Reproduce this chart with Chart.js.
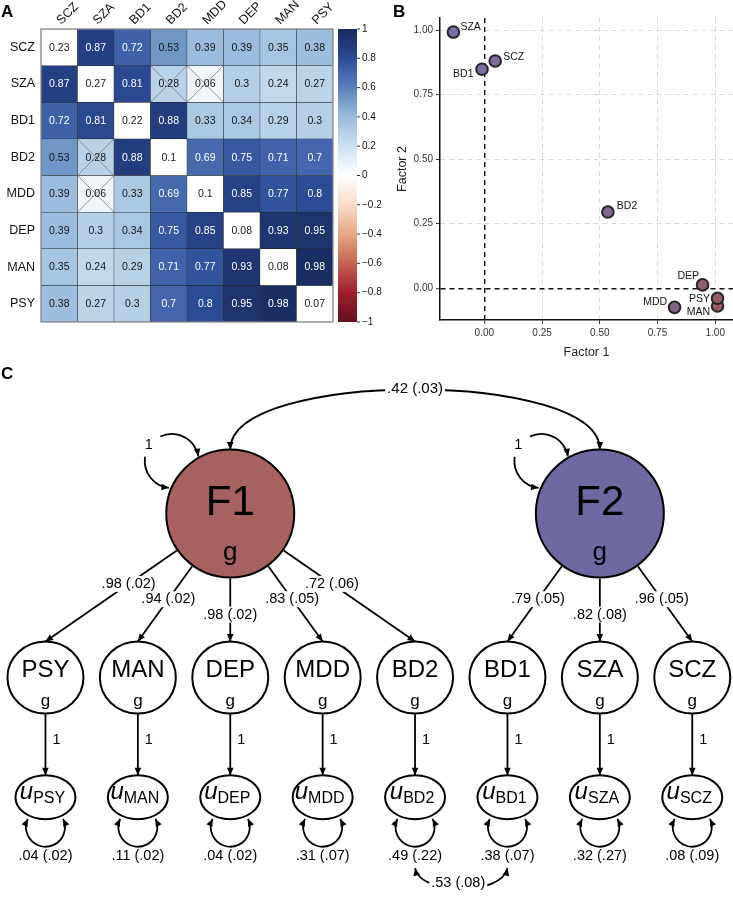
<!DOCTYPE html>
<html>
<head>
<meta charset="utf-8">
<script src="https://cdn.jsdelivr.net/npm/chart.js@4.4.0/dist/chart.umd.min.js"></script>
<style>
  body { margin:0; background:#fff; width:733px; height:899px; position:relative; overflow:hidden; }
  canvas { position:absolute; }
  #heat { left:0; top:0; }
  #load { left:380px; top:0; }
  #path { left:0; top:360px; }
</style>
</head>
<body>
<canvas id="heat" width="392" height="340"></canvas>
<canvas id="load" width="353" height="360"></canvas>
<canvas id="path" width="733" height="539"></canvas>
<script>
const FONT = '"Liberation Sans", Arial, Helvetica, sans-serif';

// ---- panel A: genetic correlations (diagonal = h2) ----
const traits = ['SCZ','SZA','BD1','BD2','MDD','DEP','MAN','PSY'];
const rg = [
  [0.23,0.87,0.72,0.53,0.39,0.39,0.35,0.38],
  [0.87,0.27,0.81,0.28,0.06,0.3,0.24,0.27],
  [0.72,0.81,0.22,0.88,0.33,0.34,0.29,0.3],
  [0.53,0.28,0.88,0.1,0.69,0.75,0.71,0.7],
  [0.39,0.06,0.33,0.69,0.1,0.85,0.77,0.8],
  [0.39,0.3,0.34,0.75,0.85,0.08,0.93,0.95],
  [0.35,0.24,0.29,0.71,0.77,0.93,0.08,0.98],
  [0.38,0.27,0.3,0.7,0.8,0.95,0.98,0.07]
];
const notSig = [[1,3],[1,4],[3,1],[4,1]];
const scaleTicks = [1,0.8,0.6,0.4,0.2,0,-0.2,-0.4,-0.6,-0.8,-1];

// ---- panel B: factor loadings (same order as traits) ----
const factor1 = [0.047,-0.134,-0.010,0.535,0.824,0.945,1.010,1.010];
const factor2 = [0.880,0.992,0.848,0.295,-0.074,0.013,-0.069,-0.039];

// ---- panel C: path model ----
const pathOrder = ['PSY','MAN','DEP','MDD','BD2','BD1','SZA','SCZ'];
const factorNames = ['F1','F2'];
const factorOf = [0,0,0,0,0,1,1,1];
const loadEst = [0.98,0.94,0.98,0.83,0.72,0.79,0.82,0.96];
const loadSE  = [0.02,0.02,0.02,0.05,0.06,0.05,0.08,0.05];
const residEst = [0.04,0.11,0.04,0.31,0.49,0.38,0.32,0.08];
const residSE  = [0.02,0.02,0.02,0.07,0.22,0.07,0.27,0.09];
const factorVar = [1,1];
const factorCov = [0.42,0.03];
const residCovPair = ['BD2','BD1'];
const residCov = [0.53,0.08];
const residPath = 1;

// colour ramp for the heatmap
const rampStops = [[-1,'#5f0f1f'],[-0.8,'#9f1f2f'],[-0.6,'#c6624f'],[-0.4,'#e6a886'],[-0.2,'#f6dcc8'],
  [0,'#ffffff'],[0.1,'#e6eff7'],[0.2,'#cddfee'],[0.3,'#b4cfe6'],[0.4,'#98badb'],[0.5,'#7aa0cb'],
  [0.6,'#5a80bb'],[0.7,'#4566ad'],[0.8,'#2b4b94'],[0.9,'#213a7a'],[1,'#1a2b5e']];
const hex2rgb = h => [1,3,5].map(i => parseInt(h.slice(i,i+2),16));
function ramp(v){
  for (let i = 1; i < rampStops.length; i++){
    if (v <= rampStops[i][0]){
      const [v0,c0] = rampStops[i-1], [v1,c1] = rampStops[i];
      const t = (v-v0)/(v1-v0), a = hex2rgb(c0), b = hex2rgb(c1);
      return 'rgb(' + a.map((x,k) => Math.round(x + (b[k]-x)*t)).join(',') + ')';
    }
  }
  return rampStops[rampStops.length-1][1];
}

function panelLetter(ctx, txt, x, y){
  ctx.font = 'bold 17px ' + FONT; ctx.fillStyle = '#000';
  ctx.textAlign = 'left'; ctx.textBaseline = 'alphabetic';
  ctx.fillText(txt, x, y);
}

const heatDecor = {
  id:'heatDecor',
  afterDatasetsDraw(chart){
    const {ctx, chartArea:a, scales:{x, y}} = chart;
    ctx.save();
    chart.data.datasets.forEach((ds, r) => {
      chart.getDatasetMeta(r).data.forEach((bar, j) => {
        const v = rg[r][j];
        const top = Math.min(bar.y, bar.base), bot = Math.max(bar.y, bar.base);
        const cx = bar.x, cy = (top + bot)/2;
        if (notSig.some(p => p[0] === r && p[1] === j)){
          ctx.strokeStyle = '#7a7a7a'; ctx.lineWidth = 0.8;
          ctx.beginPath();
          ctx.moveTo(cx - bar.width/2, top); ctx.lineTo(cx + bar.width/2, bot);
          ctx.moveTo(cx + bar.width/2, top); ctx.lineTo(cx - bar.width/2, bot);
          ctx.stroke();
        }
        ctx.fillStyle = (r !== j && v > 0.6) ? '#fff' : '#151515';
        ctx.font = '10.5px ' + FONT; ctx.textAlign = 'center'; ctx.textBaseline = 'middle';
        ctx.fillText(String(v), cx, cy + 0.5);
      });
    });
    ctx.strokeStyle = '#8a8a8a'; ctx.lineWidth = 1.3;
    ctx.strokeRect(a.left, a.top, a.right - a.left, a.bottom - a.top);

    // row + column labels
    ctx.fillStyle = '#111'; ctx.font = '12.5px ' + FONT;
    traits.forEach((t, i) => {
      ctx.textAlign = 'right'; ctx.textBaseline = 'middle';
      ctx.fillText(t, a.left - 6, y.getPixelForValue(i + 0.5));
      ctx.save();
      ctx.translate(x.getPixelForValue(i) + 2, a.top - 4);
      ctx.rotate(-Math.PI/4);
      ctx.textAlign = 'left'; ctx.textBaseline = 'alphabetic';
      ctx.fillText(t, 0, 0);
      ctx.restore();
    });

    // colour bar
    const cbL = a.right + 5, cbW = 19, cbT = a.top, cbB = a.bottom;
    const g = ctx.createLinearGradient(0, cbT, 0, cbB);
    rampStops.forEach(([v, c]) => g.addColorStop((1 - v)/2, c));
    ctx.fillStyle = g; ctx.fillRect(cbL, cbT, cbW, cbB - cbT);
    ctx.font = '10px ' + FONT; ctx.textAlign = 'left'; ctx.textBaseline = 'middle';
    scaleTicks.forEach(v => {
      const yy = cbT + (1 - v)/2*(cbB - cbT);
      ctx.strokeStyle = '#333'; ctx.lineWidth = 1;
      ctx.beginPath(); ctx.moveTo(cbL + cbW, yy); ctx.lineTo(cbL + cbW + 3, yy); ctx.stroke();
      ctx.fillStyle = '#111';
      ctx.fillText(v === 0 ? '0' : (v < 0 ? '\u2212' : '') + Math.abs(v), cbL + cbW + 5, yy);
    });
    panelLetter(ctx, 'A', 1, 17);
    ctx.restore();
  }
};

new Chart(document.getElementById('heat'), {
  type:'bar',
  data:{
    labels: traits,
    datasets: traits.map((t, r) => ({
      label: t,
      data: traits.map(() => [r, r + 1]),
      backgroundColor: traits.map((c, j) => r === j ? '#ffffff' : ramp(rg[r][j])),
      borderColor:'#222', borderWidth:0.5, borderSkipped:false,
      grouped:false, categoryPercentage:1, barPercentage:1
    }))
  },
  options:{
    responsive:false, animation:false, events:[],
    layout:{ padding:{ left:41, top:29, right:59, bottom:18 }, autoPadding:false },
    plugins:{ legend:{display:false}, tooltip:{enabled:false} },
    scales:{ x:{display:false}, y:{display:false, min:0, max:8, reverse:true} }
  },
  plugins:[heatDecor]
});

// ---- panel B ----
const pointFill = ['#7d6c9c','#7b70a6','#7a6c9e','#846a8e','#846486','#8e5f6e','#955a64','#935b66'];
const labelNudge = [[8,-3.5,'left'],[7,-4.5,'left'],[-8.5,5,'right'],[9,-6,'left'],
                    [-7.5,-5,'right'],[-3.5,-9,'right'],[-7.5,6.5,'right'],[-7.5,0.7,'right']];
const loadLabels = {
  id:'loadLabels',
  afterDatasetsDraw(chart){
    const {ctx} = chart;
    ctx.save();
    ctx.font = '10.5px ' + FONT; ctx.fillStyle = '#111'; ctx.textBaseline = 'middle';
    chart.getDatasetMeta(0).data.forEach((pt, i) => {
      const [dx, dy, al] = labelNudge[i];
      ctx.textAlign = al;
      ctx.fillText(traits[i], pt.x + dx, pt.y + dy);
    });
    panelLetter(ctx, 'B', 13, 17);
    ctx.restore();
  }
};
const isZero = c => c.tick && Math.abs(c.tick.value) < 1e-9;
const axisCommon = (title, pad) => ({
  type:'linear',
  ticks:{ includeBounds:false, stepSize:0.25, callback:v => Number(v).toFixed(2),
          font:{size:10, family:FONT}, color:'#333', padding:3 },
  grid:{ color:c => isZero(c) ? '#111' : '#cfcfcf', lineWidth:c => isZero(c) ? 1.4 : 0.8,
         tickLength:4, tickColor:'#333', tickWidth:1 },
  border:{ display:true, color:'#111', width:1.5, dash:[5,4] },
  title:{ display:true, text:title, font:{size:12.5, family:FONT}, color:'#222', padding:pad }
});
new Chart(document.getElementById('load'), {
  type:'scatter',
  data:{ datasets:[{
    data: traits.map((t, i) => ({x:factor1[i], y:factor2[i]})),
    pointRadius:5.8, pointBorderWidth:2, pointBorderColor:'#262626',
    pointBackgroundColor: pointFill
  }]},
  options:{
    responsive:false, animation:false, events:[],
    layout:{ padding:{ top:18, right:0, left:0, bottom:0 }, autoPadding:false },
    plugins:{ legend:{display:false}, tooltip:{enabled:false} },
    scales:{
      x:Object.assign(axisCommon('Factor 1', {top:6, bottom:0}), { min:-0.192, max:1.077, afterFit:s => { s.height = 40; } }),
      y:Object.assign(axisCommon('Factor 2', {top:15, bottom:0}), { min:-0.123, max:1.0465, afterFit:s => { s.width = 60; } })
    }
  },
  plugins:[loadLabels]
});

// ---- panel C ----
const tier = { factor:0, indicator:1, residual:1.73 };
const FR = 64, IRX = 38, IRY = 36, URX = 30, URY = 22;
const fmtNum = v => v.toFixed(2).replace(/^0/, '');
const fmtPair = (e, s) => fmtNum(e) + ' (' + fmtNum(s) + ')';

function arrowHead(ctx, x, y, ang){
  const L = 7.5, W = 3.3;
  ctx.beginPath();
  ctx.moveTo(x, y);
  ctx.lineTo(x - L*Math.cos(ang) + W*Math.sin(ang), y - L*Math.sin(ang) - W*Math.cos(ang));
  ctx.lineTo(x - L*Math.cos(ang) - W*Math.sin(ang), y - L*Math.sin(ang) + W*Math.cos(ang));
  ctx.closePath(); ctx.fill();
}
function boxedText(ctx, txt, x, y, size){
  ctx.font = size + 'px ' + FONT;
  const w = ctx.measureText(txt).width;
  ctx.fillStyle = '#fff'; ctx.fillRect(x - w/2 - 2, y - size*0.55, w + 4, size*1.1);
  ctx.fillStyle = '#000'; ctx.textAlign = 'center'; ctx.textBaseline = 'middle';
  ctx.fillText(txt, x, y);
}
function bez(p0, p1, p2, p3, t){
  const u = 1 - t;
  return { x:u*u*u*p0.x + 3*u*u*t*p1.x + 3*u*t*t*p2.x + t*t*t*p3.x,
           y:u*u*u*p0.y + 3*u*u*t*p1.y + 3*u*t*t*p2.y + t*t*t*p3.y };
}
const deg = d => d*Math.PI/180;

const pathDecor = {
  id:'pathDecor',
  afterDatasetsDraw(chart){
    const {ctx} = chart;
    const fac = chart.getDatasetMeta(0).data, ind = chart.getDatasetMeta(1).data, res = chart.getDatasetMeta(2).data;
    ctx.save();
    ctx.strokeStyle = '#000'; ctx.fillStyle = '#000'; ctx.lineWidth = 1.8;

    // factor covariance
    const p0 = {x:fac[0].x, y:fac[0].y - FR}, p3 = {x:fac[1].x, y:fac[1].y - FR};
    const c1 = {x:p0.x, y:p0.y - 80}, c2 = {x:p3.x, y:p3.y - 80};
    ctx.beginPath(); ctx.moveTo(p0.x, p0.y); ctx.bezierCurveTo(c1.x, c1.y, c2.x, c2.y, p3.x, p3.y); ctx.stroke();
    arrowHead(ctx, p0.x, p0.y, Math.PI/2); arrowHead(ctx, p3.x, p3.y, Math.PI/2);
    const m = bez(p0, c1, c2, p3, 0.5);
    boxedText(ctx, fmtPair(factorCov[0], factorCov[1]), m.x, m.y - 1, 15);

    // factor variances + labels
    fac.forEach((f, k) => {
      const cx = f.x - 58.5, cy = f.y - 52.5, r = 27;
      ctx.strokeStyle = '#000'; ctx.fillStyle = '#000'; ctx.lineWidth = 1.8;
      ctx.beginPath(); ctx.arc(cx, cy, r, deg(96), deg(189)); ctx.stroke();
      ctx.beginPath(); ctx.arc(cx, cy, r, deg(245), deg(350)); ctx.stroke();
      let a = deg(96);
      arrowHead(ctx, cx + r*Math.cos(a), cy + r*Math.sin(a), Math.atan2(-Math.cos(a), Math.sin(a)));
      a = deg(350);
      arrowHead(ctx, cx + r*Math.cos(a), cy + r*Math.sin(a), Math.atan2(Math.cos(a), -Math.sin(a)));
      ctx.font = '14.5px ' + FONT; ctx.textAlign = 'center'; ctx.textBaseline = 'middle';
      ctx.fillText(String(factorVar[k]), f.x - 81.5, f.y - 68.5);
      ctx.font = '42px ' + FONT; ctx.textBaseline = 'alphabetic';
      ctx.fillText(factorNames[k], f.x, f.y + 1.5);
      ctx.font = '26px ' + FONT;
      ctx.fillText('g', f.x, f.y + 46.5);
    });

    // loadings
    ind.forEach((n, i) => {
      const k = factorOf[i], f = fac[k];
      const members = factorOf.map((v, j) => v === k ? j : -1).filter(j => j >= 0);
      const mid = members.reduce((s, j) => s + j, 0)/members.length;
      const tx = n.x, ty = n.y - IRY;
      const dx = tx - f.x, dy = ty - f.y, len = Math.hypot(dx, dy);
      const sx = f.x + dx/len*(FR + 1), sy = f.y + dy/len*(FR + 1);
      ctx.strokeStyle = '#000'; ctx.fillStyle = '#000'; ctx.lineWidth = 1.8;
      ctx.beginPath(); ctx.moveTo(sx, sy); ctx.lineTo(tx, ty); ctx.stroke();
      arrowHead(ctx, tx, ty, Math.atan2(dy, dx));
      const t = 0.79 - 0.12*Math.abs(i - mid);
      boxedText(ctx, fmtPair(loadEst[i], loadSE[i]), f.x + dx*t, f.y + dy*t, 14.5);
    });

    // indicators, residual paths, residual nodes
    ind.forEach((n, i) => {
      const u = res[i];
      ctx.lineWidth = 2; ctx.strokeStyle = '#000';
      ctx.beginPath(); ctx.ellipse(n.x, n.y, IRX, IRY, 0, 0, Math.PI*2);
      ctx.fillStyle = '#fff'; ctx.fill(); ctx.stroke();
      ctx.fillStyle = '#000'; ctx.textAlign = 'center'; ctx.textBaseline = 'alphabetic';
      ctx.font = '24px ' + FONT; ctx.fillText(pathOrder[i], n.x, n.y);
      ctx.font = '17px ' + FONT; ctx.fillText('g', n.x, n.y + 28.5);

      ctx.lineWidth = 1.8;
      ctx.beginPath(); ctx.moveTo(n.x, n.y + IRY); ctx.lineTo(u.x, u.y - URY); ctx.stroke();
      arrowHead(ctx, u.x, u.y - URY, Math.PI/2);
      ctx.font = '14.5px ' + FONT; ctx.textBaseline = 'middle';
      ctx.fillText(String(residPath), n.x + 11, (n.y + IRY + u.y - URY)/2 - 4);

      ctx.lineWidth = 2;
      ctx.beginPath(); ctx.ellipse(u.x, u.y, URX, URY, 0, 0, Math.PI*2);
      ctx.fillStyle = '#fff'; ctx.fill(); ctx.stroke();
      ctx.fillStyle = '#000'; ctx.textBaseline = 'alphabetic'; ctx.textAlign = 'left';
      ctx.font = 'italic 24px ' + FONT; const wu = ctx.measureText('u').width;
      ctx.font = '16px ' + FONT; const ws = ctx.measureText(pathOrder[i]).width;
      const x0 = u.x - (wu + ws)/2 - 3;
      ctx.font = 'italic 24px ' + FONT; ctx.fillText('u', x0, u.y + 2);
      ctx.font = '16px ' + FONT; ctx.fillText(pathOrder[i], x0 + wu, u.y + 6);

      // residual variance loop
      const lx = u.x, ly = u.y + 30, lr = 19.5;
      ctx.lineWidth = 1.8;
      ctx.beginPath(); ctx.arc(lx, ly, lr, deg(-25), deg(205)); ctx.stroke();
      let a = deg(-25);
      arrowHead(ctx, lx + lr*Math.cos(a), ly + lr*Math.sin(a), Math.atan2(-Math.cos(a), Math.sin(a)));
      a = deg(205);
      arrowHead(ctx, lx + lr*Math.cos(a), ly + lr*Math.sin(a), Math.atan2(Math.cos(a), -Math.sin(a)));
      ctx.font = '14.5px ' + FONT; ctx.textAlign = 'center'; ctx.textBaseline = 'middle';
      ctx.fillText(fmtPair(residEst[i], residSE[i]), u.x, u.y + 59);
    });

    // residual covariance
    const ra = res[pathOrder.indexOf(residCovPair[0])], rb = res[pathOrder.indexOf(residCovPair[1])];
    const q0 = {x:ra.x, y:ra.y + 71}, q3 = {x:rb.x, y:rb.y + 71};
    const q1 = {x:q0.x + 6, y:q0.y + 28}, q2 = {x:q3.x - 6, y:q3.y + 28};
    ctx.lineWidth = 1.8;
    ctx.beginPath(); ctx.moveTo(q0.x, q0.y); ctx.bezierCurveTo(q1.x, q1.y, q2.x, q2.y, q3.x, q3.y); ctx.stroke();
    arrowHead(ctx, q0.x, q0.y, Math.atan2(q0.y - q1.y, q0.x - q1.x));
    arrowHead(ctx, q3.x, q3.y, Math.atan2(q3.y - q2.y, q3.x - q2.x));
    const mm = bez(q0, q1, q2, q3, 0.5);
    boxedText(ctx, fmtPair(residCov[0], residCov[1]), mm.x - 3, mm.y - 6, 14.5);

    panelLetter(ctx, 'C', 1, 19);
    ctx.restore();
  }
};

const factorX = factorNames.map((n, k) => {
  const idx = factorOf.map((v, j) => v === k ? j : -1).filter(j => j >= 0);
  return idx.reduce((s, j) => s + j, 0)/idx.length;
});

new Chart(document.getElementById('path'), {
  type:'scatter',
  data:{ datasets:[
    { data: factorNames.map((n, k) => ({x:factorX[k], y:tier.factor})),
      pointRadius:FR, pointBorderWidth:2, pointBorderColor:'#000',
      pointBackgroundColor:['#a86161','#6f69a1'], clip:false },
    { data: pathOrder.map((n, i) => ({x:i, y:tier.indicator})), pointRadius:0 },
    { data: pathOrder.map((n, i) => ({x:i, y:tier.residual})), pointRadius:0 }
  ]},
  options:{
    responsive:false, animation:false, events:[],
    layout:{ padding:0, autoPadding:false },
    plugins:{ legend:{display:false}, tooltip:{enabled:false} },
    scales:{
      x:{ display:false, type:'linear', min:-0.492, max:7.441 },
      y:{ display:false, type:'linear', min:-0.936, max:2.351, reverse:true }
    }
  },
  plugins:[pathDecor]
});
</script>
</body>
</html>
